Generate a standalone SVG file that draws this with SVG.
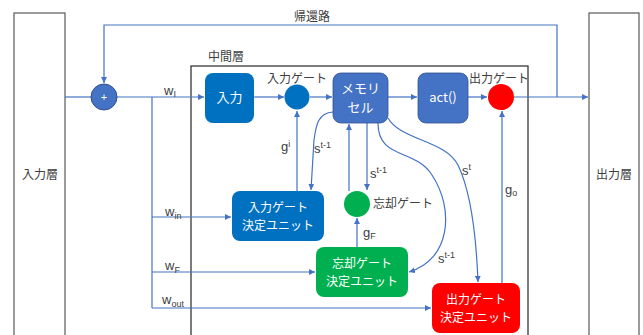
<svg xmlns="http://www.w3.org/2000/svg" width="643" height="335" viewBox="0 0 643 335">
<defs>
<marker id="ar" markerWidth="8" markerHeight="8" refX="6" refY="3" orient="auto" markerUnits="userSpaceOnUse">
<path d="M0,0 L6,3 L0,6 Z" fill="#4472C4"/>
</marker>
<style>
.t{font-family:"Noto Sans CJK JP","Liberation Sans",sans-serif;fill:#404040;font-size:12px}
.w{font-family:"Noto Sans CJK JP","Liberation Sans",sans-serif;fill:#ffffff;font-size:13px;text-anchor:middle}
.u{font-size:12px}
.l{font-family:"Liberation Sans","Noto Sans",sans-serif;fill:#404040;font-size:13px}
.sub{font-size:9px}
.c{fill:none;stroke:#4472C4;stroke-width:1.2}
.ca{fill:none;stroke:#4472C4;stroke-width:1.2;marker-end:url(#ar)}
</style>
</defs>
<rect width="643" height="335" fill="#ffffff"/>
<g id="input-layer">
<rect x="14" y="13" width="51" height="330" fill="#ffffff" stroke="#595959" stroke-width="1.2"/>
<text class="t" x="40" y="179" text-anchor="middle" font-size="13">入力層</text>
</g>
<g id="output-layer">
<rect x="589" y="13" width="50" height="330" fill="#ffffff" stroke="#595959" stroke-width="1.2"/>
<text class="t" x="614" y="179" text-anchor="middle" font-size="13">出力層</text>
</g>
<g id="middle-layer">
<rect x="191" y="66" width="337" height="280" fill="none" stroke="#262626" stroke-width="1.2"/>
<text class="t" x="208" y="61">中間層</text>
</g>
<g id="connectors">
<path class="c" d="M65,97 H91"/>
<path class="ca" d="M117,97 H204"/>
<path class="ca" d="M254,97 H284"/>
<path class="ca" d="M310,97 H332"/>
<path class="ca" d="M388,97 H417"/>
<path class="ca" d="M468,97 H487"/>
<path class="ca" d="M514,97 H588"/>
<path class="ca" d="M557,97 V25 H104 V83"/>
<path class="c" d="M152,97 V308"/>
<path class="ca" d="M152,217 H231"/>
<path class="ca" d="M152,272 H315"/>
<path class="ca" d="M152,308 H431"/>
<path class="ca" d="M297,191 V111"/>
<path class="ca" d="M333,112 C318,113 316,125 314,140 L311,190"/>
<path class="ca" d="M349,191 V124"/>
<path class="ca" d="M367,123 V190"/>
<path class="ca" d="M357,247 V218"/>
<path class="ca" d="M378,123 C378,160 415,148 432,175 C455,210 450,260 409,272"/>
<path class="ca" d="M388,118 C400,140 445,140 458,165 C470,190 476,230 478,282"/>
<path class="ca" d="M502,283 V111"/>
</g>
<g id="plus">
<circle cx="104" cy="97" r="13" fill="#4472C4" stroke="#2F528F" stroke-width="1"/>
<text x="104" y="101" text-anchor="middle" font-family="Liberation Sans, sans-serif" font-size="11" fill="#ffffff">+</text>
</g>
<g id="input-box">
<rect x="205" y="73" width="49" height="50" rx="8" fill="#0070C0"/>
<text class="w" x="229.5" y="102">入力</text>
</g>
<g id="input-gate">
<circle cx="297" cy="97" r="12.5" fill="#0070C0"/>
<text class="t" x="297" y="83" text-anchor="middle" font-size="11">入力ゲート</text>
</g>
<g id="memory-cell">
<rect x="333" y="73" width="55" height="50" rx="8" fill="#4472C4" stroke="#2F528F" stroke-width="0.8"/>
<text class="w" x="360.5" y="93">メモリ</text>
<text class="w" x="360.5" y="112">セル</text>
</g>
<g id="act">
<rect x="418" y="73" width="50" height="50" rx="8" fill="#4472C4" stroke="#2F528F" stroke-width="0.8"/>
<text class="w" x="443" y="102" font-family="Liberation Sans, sans-serif">act()</text>
</g>
<g id="output-gate">
<circle cx="501" cy="97" r="13" fill="#FF0000"/>
<text class="t" x="499" y="83" text-anchor="middle" font-size="11">出力ゲート</text>
</g>
<g id="forget-gate">
<circle cx="357" cy="204" r="13" fill="#00B050"/>
<text class="t" x="373" y="208" font-size="11">忘却ゲート</text>
</g>
<g id="input-gate-unit">
<rect x="232" y="191" width="92" height="50" rx="8" fill="#0070C0"/>
<text class="w u" x="278" y="212">入力ゲート</text>
<text class="w u" x="278" y="229.5">決定ユニット</text>
</g>
<g id="forget-gate-unit">
<rect x="316" y="247" width="92" height="50" rx="8" fill="#00B050"/>
<text class="w u" x="362" y="268">忘却ゲート</text>
<text class="w u" x="362" y="285.5">決定ユニット</text>
</g>
<g id="output-gate-unit">
<rect x="432" y="283" width="88" height="50" rx="8" fill="#FF0000"/>
<text class="w u" x="476" y="304">出力ゲート</text>
<text class="w u" x="476" y="321.5">決定ユニット</text>
</g>
<g id="labels">
<text class="t" x="312" y="21" text-anchor="middle" font-size="13">帰還路</text>
<text class="l" x="164" y="95">w<tspan class="sub" dy="2">I</tspan></text>
<text class="l" x="165" y="216">w<tspan class="sub" dy="3">in</tspan></text>
<text class="l" x="165" y="270">w<tspan class="sub" dy="3">F</tspan></text>
<text class="l" x="162" y="304">w<tspan class="sub" dy="3">out</tspan></text>
<text class="l" x="281" y="151">g<tspan class="sub" dy="-4">i</tspan></text>
<text class="l" x="314" y="153">s<tspan class="sub" dy="-5">t-1</tspan></text>
<text class="l" x="370" y="178">s<tspan class="sub" dy="-5">t-1</tspan></text>
<text class="l" x="363" y="237">g<tspan class="sub" dy="2">F</tspan></text>
<text class="l" x="438" y="263">s<tspan class="sub" dy="-5">t-1</tspan></text>
<text class="l" x="462" y="175">s<tspan class="sub" dy="-5">t</tspan></text>
<text class="l" x="505" y="194">g<tspan class="sub" dy="2">o</tspan></text>
</g>
</svg>
